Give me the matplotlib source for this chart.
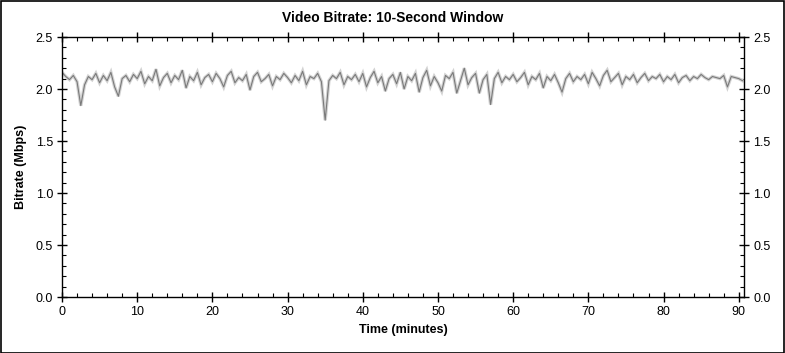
import matplotlib
matplotlib.use("Agg")
import matplotlib.pyplot as plt
import numpy as np
from matplotlib.patches import Rectangle
from matplotlib.ticker import MultipleLocator

plt.rcParams['font.family'] = ['Liberation Sans', 'DejaVu Sans']

step_min = 0.5
bitrate = [
    2.16, 2.12, 2.09, 2.13, 2.07, 1.84, 2.04, 2.12, 2.09, 2.15, 2.06, 2.13, 2.08, 2.16, 2.02, 1.93, 2.10, 2.13, 2.07, 2.14,
    2.10, 2.17, 2.05, 2.12, 2.08, 2.19, 2.03, 2.11, 2.15, 2.06, 2.13, 2.09, 2.18, 2.01, 2.12, 2.08, 2.16, 2.04, 2.11, 2.14,
    2.07, 2.15, 2.10, 2.02, 2.13, 2.17, 2.06, 2.11, 2.08, 2.14, 1.99, 2.12, 2.16, 2.07, 2.10, 2.14, 2.03, 2.12, 2.09, 2.15,
    2.11, 2.06, 2.13, 2.08, 2.17, 2.04, 2.12, 2.10, 2.15, 2.07, 1.70, 2.08, 2.13, 2.10, 2.16, 2.04, 2.12, 2.09, 2.14, 2.07,
    2.15, 2.02, 2.11, 2.17, 2.06, 2.12, 1.98, 2.10, 2.14, 2.05, 2.16, 2.00, 2.12, 2.08, 2.15, 1.97, 2.11, 2.18, 2.03, 2.12,
    2.06, 1.98, 2.13, 2.10, 2.16, 1.96, 2.08, 2.20, 2.04, 2.11, 2.15, 1.96, 2.09, 2.14, 1.85, 2.10, 2.16, 2.06, 2.12, 2.09,
    2.14, 2.07, 2.11, 2.16, 2.04, 2.12, 2.09, 2.15, 2.01, 2.12, 2.08, 2.14, 2.06, 1.97, 2.10, 2.15, 2.07, 2.12, 2.09, 2.14,
    2.05, 2.16, 2.10, 2.03, 2.13, 2.18, 2.07, 2.11, 2.15, 2.04, 2.12, 2.09, 2.14, 2.06, 2.11, 2.15, 2.08, 2.12, 2.10, 2.14,
    2.07, 2.12, 2.09, 2.14, 2.06, 2.11, 2.13, 2.08, 2.12, 2.10, 2.14, 2.11, 2.09, 2.12, 2.11, 2.10, 2.13, 2.02, 2.12, 2.11,
    2.10, 2.08,
]
time_min = np.arange(len(bitrate)) * step_min

fig = plt.figure(figsize=(7.85, 3.53), dpi=100)
ax = fig.add_axes([62/785, 1-297/353, (744-62)/785, (297-37)/353])

ax.plot(time_min, bitrate, color='#d2d2d2', lw=2.4, solid_joinstyle='miter')
ax.plot(time_min, bitrate, color='#7a7a7a', lw=0.8)

ax.set_xlim(0, 90.7)
ax.set_ylim(0, 2.5)
ax.xaxis.set_major_locator(MultipleLocator(10))
ax.xaxis.set_minor_locator(MultipleLocator(2))
ax.yaxis.set_major_locator(MultipleLocator(0.5))
ax.yaxis.set_minor_locator(MultipleLocator(0.1))
ax.yaxis.set_major_formatter(matplotlib.ticker.FormatStrFormatter('%.1f'))

ax.tick_params(which='major', direction='inout', length=7, width=1, top=True, right=True,
               labelright=True, labelsize=9, pad=3)
ax.tick_params(which='minor', direction='in', length=3, width=0.8, top=True, right=True)
for s in ax.spines.values():
    s.set_linewidth(1)

ax.set_xlabel('Time (minutes)', fontsize=9, fontweight='bold', labelpad=4)
ax.set_ylabel('Bitrate (Mbps)', fontsize=9, fontweight='bold', labelpad=6)
fig.text(0.5, 1-18/353, 'Video Bitrate: 10-Second Window', ha='center', va='center',
         fontsize=10, fontweight='bold')

fig.patches.append(Rectangle((0.5/785, 0.5/353), 1-1.5/785, 1-1.5/353, transform=fig.transFigure,
                             fill=False, edgecolor='black', lw=1.2))

fig.savefig('out.png', dpi=100)
